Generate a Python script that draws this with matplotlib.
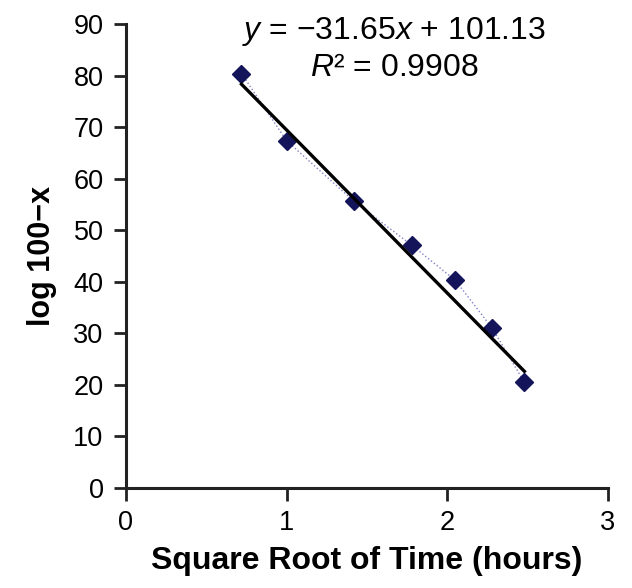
import numpy as np
import matplotlib.pyplot as plt

plt.rcParams['font.family'] = ['Liberation Sans', 'DejaVu Sans']
plt.rcParams['mathtext.fontset'] = 'custom'
plt.rcParams['mathtext.it'] = 'Liberation Sans:italic'
plt.rcParams['mathtext.rm'] = 'Liberation Sans'

# square root of time (hours) and log 100-x
sqrt_time = [0.72, 1.00, 1.42, 1.78, 2.05, 2.28, 2.48]
log_vals = [80.4, 67.4, 55.6, 47.1, 40.3, 31.0, 20.5]
slope = -31.65
intercept = 101.13
r_squared = 0.9908

fig = plt.figure(figsize=(6.32, 5.88), dpi=100)
ax = fig.add_axes([0.199, 0.17, 0.763, 0.789])

ax.plot(sqrt_time, log_vals, color='#4a4ab0', lw=1, ls=':', alpha=0.7, zorder=2)
ax.plot(sqrt_time, log_vals, ls='none', marker='D', ms=9, color='#14145a', zorder=3)

xfit = np.array([sqrt_time[0], sqrt_time[-1]])
ax.plot(xfit, slope * xfit + intercept, color='black', lw=2.4, zorder=4)

ax.set_xlim(0, 3)
ax.set_ylim(0, 90)
ax.set_xticks([0, 1, 2, 3])
ax.set_yticks(range(0, 91, 10))
for s in ['top', 'right']:
    ax.spines[s].set_visible(False)
for s in ['left', 'bottom']:
    ax.spines[s].set_linewidth(2.2)
    ax.spines[s].set_color('#222222')
ax.tick_params(labelsize=19.5, width=2, length=9, color='#222222', pad=7)

ax.set_xlabel('Square Root of Time (hours)', fontsize=23, fontweight='bold', labelpad=7)
ax.set_ylabel('log 100\u2212x', fontsize=22, fontweight='bold', labelpad=12)

ax.text(0.556, 0.985, '$y$ = \u221231.65$x$ + 101.13', transform=ax.transAxes,
        ha='center', va='center', fontsize=23)
ax.text(0.556, 0.905, '$R$\u00b2 = %.4f' % r_squared, transform=ax.transAxes,
        ha='center', va='center', fontsize=23)

fig.savefig('out.png', dpi=100)
